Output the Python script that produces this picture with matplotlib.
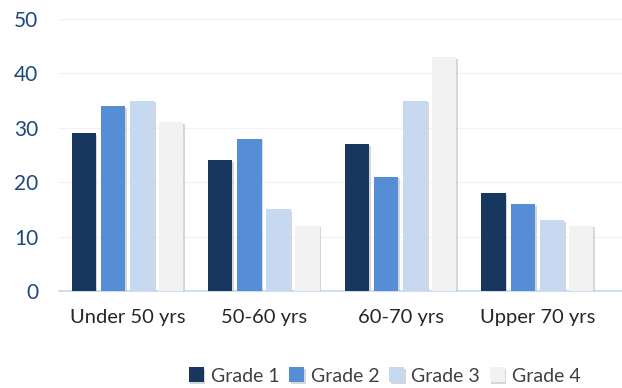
import matplotlib
matplotlib.use("Agg")
import matplotlib.pyplot as plt
import matplotlib.patheffects as pe
import numpy as np

categories = ["Under 50 yrs", "50-60 yrs", "60-70 yrs", "Upper 70 yrs"]
series_names = ["Grade 1", "Grade 2", "Grade 3", "Grade 4"]
grade1 = [29, 24, 27, 18]
grade2 = [34, 28, 21, 16]
grade3 = [35, 15, 35, 13]
grade4 = [31, 12, 43, 12]
colors = ["#17375E", "#558ED5", "#C6D9F1", "#F2F2F2"]
y_ticks = [0, 10, 20, 30, 40, 50]

plt.rcParams['font.family'] = ['Lato', 'DejaVu Sans']

fig = plt.figure(figsize=(6.22, 3.88), dpi=100)
ax = fig.add_axes([59 / 622, 1 - 291 / 388, 563 / 622, 272 / 388])

x = np.arange(len(categories))
pitch = 0.213
width = 0.178
shadow = [pe.SimplePatchShadow(offset=(1.2, -1.2), shadow_rgbFace="#b0b0b0", alpha=0.5), pe.Normal()]
for i, (name, vals) in enumerate(zip(series_names, [grade1, grade2, grade3, grade4])):
    bars = ax.bar(x + (i - 1.5) * pitch, vals, width, color=colors[i], label=name, zorder=3)
    for b in bars:
        b.set_path_effects(shadow)

ax.set_xlim(-0.5, 3.62)
ax.set_ylim(0, 50)
ax.set_yticks(y_ticks)
ax.set_xticks(x)
ax.set_xticklabels(categories, fontsize=14.5, color="#262626")
ax.tick_params(axis='y', labelsize=15, labelcolor="#1F497D", length=0, pad=15)
ax.tick_params(axis='x', length=0, pad=13)
ax.grid(axis='y', color="#F2F2F2", linewidth=0.8, zorder=0)
for s in ["top", "right", "left"]:
    ax.spines[s].set_visible(False)
ax.spines["bottom"].set_color("#C6D9F1")
ax.spines["bottom"].set_linewidth(1.2)

leg = fig.legend(loc="center", bbox_to_anchor=(0.618, 1 - 376 / 388), ncol=4, frameon=False,
                 fontsize=14, handlelength=0.78, handleheight=0.78, handletextpad=0.35,
                 columnspacing=0.5, labelcolor="#404040")

fig.savefig("out.png", dpi=100)
